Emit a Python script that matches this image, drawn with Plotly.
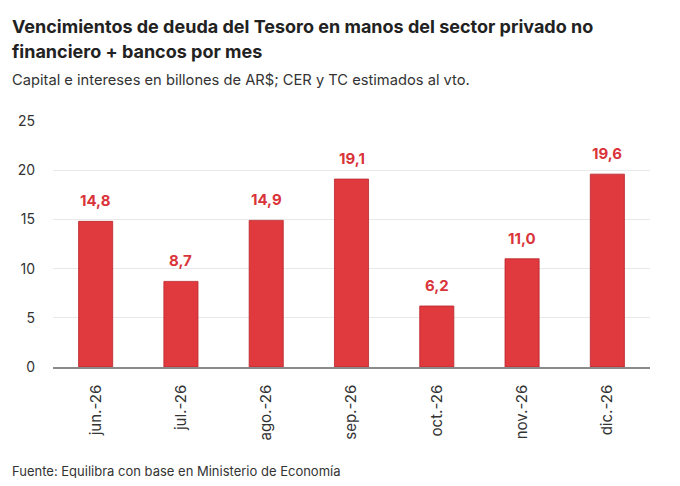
import plotly.graph_objects as go

# Vencimientos mensuales (billones de AR$)
meses = ['jun.-26', 'jul.-26', 'ago.-26', 'sep.-26', 'oct.-26', 'nov.-26', 'dic.-26']
vencimientos = [14.8, 8.7, 14.9, 19.1, 6.2, 11.0, 19.6]
y_ticks = [0, 5, 10, 15, 20, 25]

rojo = '#E0393E'
fuente = 'Inter, Roboto, sans-serif'

# la pagina html deja 8px de margen, asi que la figura es algo menor que la ventana
W, H = 664, 470
L, R, T, B = 45, 22, 113, 111
pw, ph = W - L - R, H - T - B

fig = go.Figure()
fig.add_trace(go.Bar(x=meses, y=vencimientos,
                     marker=dict(color=rojo, line=dict(color='#B8272C', width=0.8)),
                     width=0.4))

# etiquetas de valor sobre cada barra
for mes, v in zip(meses, vencimientos):
    fig.add_annotation(x=mes, y=v, text=f'{v:.1f}'.replace('.', ','),
                       showarrow=False, yanchor='bottom', yshift=9,
                       font=dict(family=fuente, size=15, color='#D9343A', weight='bold'))

fig.update_layout(
    width=W, height=H,
    plot_bgcolor='white', paper_bgcolor='white',
    margin=dict(l=L, r=R, t=T, b=B),
    font=dict(family=fuente, color='#333333'),
    showlegend=False,
    bargap=0.6,
)

fig.update_yaxes(range=[0, 25], tickvals=y_ticks, showgrid=True, gridcolor='#E8E8E8',
                 gridwidth=1, zeroline=False, ticks='', tickfont=dict(size=14, color='#333333'),
                 ticklabelstandoff=17, automargin=False)
fig.update_xaxes(tickangle=-90, showline=True, linecolor='#8A8A8A', linewidth=1.5,
                 ticks='', tickfont=dict(size=15, color='#333333'),
                 ticklabelstandoff=10, automargin=False)


def px_x(x):
    return (x - L) / pw


def px_y(y):
    return 1 - (y - T) / ph


fig.add_annotation(xref='paper', yref='paper', x=px_x(2), y=px_y(6),
                   xanchor='left', yanchor='top', align='left', showarrow=False,
                   text='<b>Vencimientos de deuda del Tesoro en manos del sector privado no</b>',
                   font=dict(size=18, color='#222222'))
fig.add_annotation(xref='paper', yref='paper', x=px_x(2), y=px_y(31),
                   xanchor='left', yanchor='top', align='left', showarrow=False,
                   text='<b>financiero + bancos por mes</b>',
                   font=dict(size=18, color='#222222'))
fig.add_annotation(xref='paper', yref='paper', x=px_x(2), y=px_y(61),
                   xanchor='left', yanchor='top', align='left', showarrow=False,
                   text='Capital e intereses en billones de AR$; CER y TC estimados al vto.',
                   font=dict(size=14.7, color='#333333'))
fig.add_annotation(xref='paper', yref='paper', x=px_x(2), y=px_y(453),
                   xanchor='left', yanchor='top', align='left', showarrow=False,
                   text='Fuente: Equilibra con base en Ministerio de Economía',
                   font=dict(size=13, color='#333333'))

fig.write_html("out.html")
